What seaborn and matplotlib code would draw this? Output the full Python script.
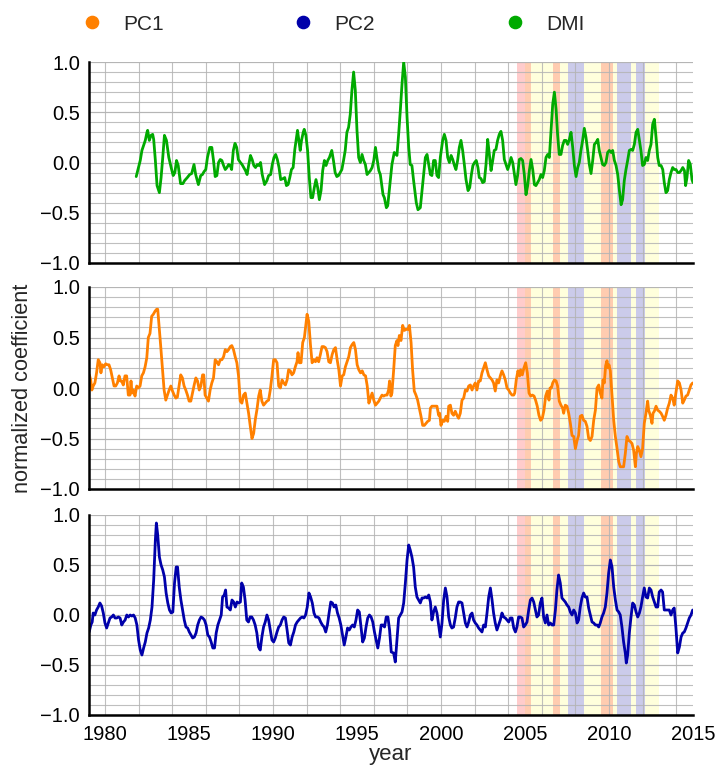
import matplotlib
matplotlib.use("Agg")
import matplotlib.pyplot as plt
from matplotlib.ticker import MultipleLocator
from matplotlib.lines import Line2D
import seaborn as sns

# ---------------- data ----------------
dmi_year = [1981.86, 1982.1, 1982.2, 1982.4, 1982.5, 1982.54, 1982.64, 1982.74, 1982.84, 1982.9,
            1983.0, 1983.1, 1983.24, 1983.34, 1983.44, 1983.54, 1983.66, 1983.8, 1983.94, 1984.06,
            1984.16, 1984.26, 1984.36, 1984.5, 1984.64, 1984.74, 1984.9, 1985.04, 1985.16, 1985.3,
            1985.4, 1985.56, 1985.7, 1985.8, 1985.9, 1986.0, 1986.1, 1986.24, 1986.36, 1986.46,
            1986.56, 1986.66, 1986.76, 1986.86, 1986.96, 1987.06, 1987.16, 1987.26, 1987.36, 1987.46,
            1987.54, 1987.64, 1987.74, 1987.84, 1987.94, 1988.06, 1988.16, 1988.26, 1988.36, 1988.46,
            1988.56, 1988.66, 1988.76, 1988.86, 1988.96, 1989.06, 1989.16, 1989.26, 1989.36, 1989.5,
            1989.64, 1989.74, 1989.86, 1989.96, 1990.06, 1990.16, 1990.26, 1990.36, 1990.46, 1990.6,
            1990.7, 1990.8, 1990.9, 1991.0, 1991.1, 1991.2, 1991.3, 1991.4, 1991.46, 1991.54,
            1991.62, 1991.7, 1991.8, 1991.86, 1991.96, 1992.06, 1992.16, 1992.26, 1992.36, 1992.46,
            1992.56, 1992.66, 1992.76, 1992.86, 1992.96, 1993.06, 1993.16, 1993.26, 1993.36, 1993.5,
            1993.6, 1993.7, 1993.8, 1993.9, 1994.0, 1994.1, 1994.2, 1994.3, 1994.4, 1994.5,
            1994.6, 1994.7, 1994.8, 1994.9, 1995.0, 1995.1, 1995.2, 1995.3, 1995.4, 1995.5,
            1995.6, 1995.7, 1995.8, 1995.9, 1996.0, 1996.1, 1996.2, 1996.3, 1996.39, 1996.55,
            1996.63, 1996.75, 1996.83, 1996.94, 1997.08, 1997.22, 1997.38, 1997.48, 1997.58, 1997.68,
            1997.78, 1997.88, 1997.98, 1998.08, 1998.17, 1998.27, 1998.37, 1998.53, 1998.63, 1998.77,
            1998.87, 1998.97, 1999.07, 1999.17, 1999.27, 1999.37, 1999.46, 1999.56, 1999.66, 1999.76,
            1999.86, 1999.96, 2000.1, 2000.2, 2000.3, 2000.4, 2000.5, 2000.6, 2000.7, 2000.8,
            2000.89, 2000.99, 2001.09, 2001.19, 2001.29, 2001.39, 2001.49, 2001.61, 2001.71, 2001.81,
            2001.9, 2002.0, 2002.1, 2002.2, 2002.28, 2002.38, 2002.48, 2002.58, 2002.68, 2002.78,
            2002.88, 2002.98, 2003.08, 2003.17, 2003.27, 2003.37, 2003.47, 2003.57, 2003.67, 2003.77,
            2003.87, 2003.97, 2004.07, 2004.17, 2004.27, 2004.37, 2004.46, 2004.56, 2004.66, 2004.76,
            2004.86, 2004.96, 2005.06, 2005.16, 2005.26, 2005.36, 2005.46, 2005.56, 2005.65, 2005.75,
            2005.85, 2005.95, 2006.05, 2006.15, 2006.25, 2006.35, 2006.45, 2006.55, 2006.65, 2006.75,
            2006.85, 2006.94, 2007.04, 2007.14, 2007.24, 2007.34, 2007.44, 2007.54, 2007.64, 2007.74,
            2007.84, 2007.94, 2008.04, 2008.14, 2008.23, 2008.33, 2008.43, 2008.53, 2008.63, 2008.73,
            2008.83, 2008.93, 2009.03, 2009.13, 2009.23, 2009.33, 2009.42, 2009.52, 2009.62, 2009.72,
            2009.82, 2009.92, 2010.02, 2010.12, 2010.22, 2010.32, 2010.42, 2010.52, 2010.62, 2010.72,
            2010.81, 2010.91, 2011.01, 2011.11, 2011.21, 2011.31, 2011.41, 2011.51, 2011.61, 2011.71,
            2011.81, 2011.9, 2012.0, 2012.1, 2012.2, 2012.3, 2012.4, 2012.5, 2012.6, 2012.7,
            2012.8, 2012.9, 2012.99, 2013.1, 2013.2, 2013.29, 2013.39, 2013.49, 2013.59, 2013.69,
            2013.79, 2013.89, 2013.99, 2014.09, 2014.19, 2014.29, 2014.39, 2014.49, 2014.56, 2014.64,
            2014.74, 2014.84, 2014.94, 2015.0]
dmi_val = [-0.14, 0.02, 0.12, 0.22, 0.30, 0.32, 0.22, 0.27, 0.28, 0.23,
           0.02, -0.23, -0.30, -0.15, 0.05, 0.27, 0.22, 0.05, -0.05, -0.13,
           -0.10, 0.02, -0.03, -0.21, -0.21, -0.18, -0.15, -0.12, -0.11, -0.02,
           -0.12, -0.22, -0.13, -0.12, -0.09, -0.07, 0.05, 0.15, 0.15, 0.02,
           -0.14, -0.13, 0.00, 0.03, 0.02, -0.03, -0.07, -0.05, -0.02, -0.03,
           -0.07, 0.12, 0.19, 0.15, 0.03, 0.00, -0.02, -0.05, -0.08, -0.12,
           -0.02, 0.07, 0.03, -0.03, -0.05, -0.02, -0.03, 0.00, -0.12, -0.22,
           -0.18, -0.13, -0.12, -0.02, 0.05, 0.08, 0.03, -0.05, -0.17, -0.16,
           -0.15, -0.23, -0.22, -0.15, -0.07, -0.05, 0.13, 0.25, 0.32, 0.22,
           0.12, 0.22, 0.30, 0.33, 0.27, 0.12, -0.15, -0.35, -0.35, -0.25,
           -0.17, -0.25, -0.37, -0.28, -0.08, 0.02, -0.03, 0.02, 0.05, 0.12,
           0.02, -0.10, -0.14, -0.13, -0.10, -0.07, 0.02, 0.12, 0.30, 0.35,
           0.48, 0.72, 0.90, 0.72, 0.32, 0.05, 0.00, 0.08, 0.02, -0.02,
           -0.12, -0.10, -0.08, -0.05, 0.02, 0.15, 0.03, -0.08, -0.12, -0.32,
           -0.35, -0.45, -0.43, -0.25, -0.02, 0.10, 0.07, 0.28, 0.52, 0.78,
           1.00, 0.85, 0.45, 0.15, -0.02, -0.03, -0.18, -0.40, -0.47, -0.45,
           -0.28, -0.12, 0.05, 0.08, -0.02, -0.12, -0.13, 0.02, 0.02, -0.13,
           -0.15, 0.05, 0.22, 0.28, 0.22, 0.05, 0.00, 0.07, 0.03, -0.03,
           -0.07, 0.02, 0.15, 0.22, 0.12, -0.02, -0.17, -0.28, -0.25, -0.12,
           -0.03, 0.00, 0.02, -0.05, -0.15, -0.16, -0.20, -0.19, -0.02, 0.23,
           0.08, -0.08, 0.02, 0.12, 0.13, 0.22, 0.28, 0.31, 0.22, 0.03,
           -0.02, -0.07, -0.02, 0.05, 0.00, -0.12, -0.22, -0.13, 0.03, 0.04,
           0.02, -0.12, -0.32, -0.23, -0.08, 0.03, -0.07, -0.22, -0.23, -0.20,
           -0.17, -0.12, -0.15, -0.08, 0.05, 0.08, 0.05, 0.32, 0.58, 0.70,
           0.53, 0.28, 0.08, 0.08, 0.17, 0.22, 0.22, 0.18, 0.23, 0.30,
           0.15, -0.03, -0.14, -0.05, 0.00, 0.12, 0.22, 0.34, 0.25, 0.12,
           -0.02, -0.11, 0.02, 0.18, 0.20, 0.23, 0.12, 0.05, -0.02, -0.03,
           0.00, 0.10, 0.12, 0.10, 0.12, 0.02, -0.03, -0.12, -0.28, -0.42,
           -0.37, -0.18, -0.07, 0.02, 0.12, 0.13, 0.12, 0.18, 0.30, 0.33,
           0.22, 0.12, -0.03, -0.02, 0.05, 0.02, 0.12, 0.18, 0.38, 0.43,
           0.25, 0.05, -0.03, -0.03, -0.07, -0.20, -0.30, -0.28, -0.17, -0.10,
           -0.05, -0.07, -0.07, -0.10, -0.10, -0.08, -0.05, -0.08, -0.23, -0.15,
           0.02, -0.02, -0.17, -0.20]

pc1_year = [1979.07, 1979.15, 1979.22, 1979.3, 1979.4, 1979.5, 1979.6, 1979.7, 1979.76, 1979.84,
            1979.94, 1980.04, 1980.14, 1980.24, 1980.34, 1980.44, 1980.54, 1980.64, 1980.74, 1980.84,
            1980.9, 1980.99, 1981.09, 1981.19, 1981.29, 1981.39, 1981.49, 1981.55, 1981.61, 1981.69,
            1981.79, 1981.89, 1981.99, 1982.09, 1982.19, 1982.29, 1982.39, 1982.49, 1982.58, 1982.68,
            1982.78, 1982.88, 1982.98, 1983.08, 1983.14, 1983.22, 1983.32, 1983.42, 1983.52, 1983.62,
            1983.72, 1983.82, 1983.92, 1984.02, 1984.12, 1984.22, 1984.31, 1984.41, 1984.51, 1984.61,
            1984.71, 1984.81, 1984.91, 1985.01, 1985.11, 1985.21, 1985.31, 1985.41, 1985.51, 1985.61,
            1985.71, 1985.81, 1985.88, 1985.96, 1986.06, 1986.16, 1986.26, 1986.36, 1986.46, 1986.56,
            1986.66, 1986.76, 1986.86, 1986.96, 1987.06, 1987.16, 1987.26, 1987.36, 1987.46, 1987.55,
            1987.65, 1987.75, 1987.85, 1987.95, 1988.05, 1988.15, 1988.25, 1988.35, 1988.45, 1988.55,
            1988.65, 1988.75, 1988.85, 1988.95, 1989.05, 1989.15, 1989.24, 1989.34, 1989.44, 1989.54,
            1989.64, 1989.74, 1989.84, 1989.94, 1990.04, 1990.14, 1990.24, 1990.34, 1990.44, 1990.54,
            1990.64, 1990.74, 1990.84, 1990.93, 1991.03, 1991.13, 1991.23, 1991.33, 1991.43, 1991.49,
            1991.57, 1991.67, 1991.77, 1991.87, 1991.97, 1992.03, 1992.13, 1992.23, 1992.33, 1992.43,
            1992.53, 1992.62, 1992.72, 1992.82, 1992.92, 1993.02, 1993.12, 1993.22, 1993.32, 1993.42,
            1993.52, 1993.62, 1993.72, 1993.82, 1993.92, 1994.02, 1994.12, 1994.21, 1994.31, 1994.41,
            1994.51, 1994.61, 1994.71, 1994.81, 1994.91, 1995.01, 1995.11, 1995.21, 1995.31, 1995.41,
            1995.51, 1995.61, 1995.71, 1995.8, 1995.9, 1996.0, 1996.1, 1996.2, 1996.3, 1996.39,
            1996.49, 1996.59, 1996.69, 1996.79, 1996.88, 1996.94, 1997.02, 1997.08, 1997.18, 1997.28,
            1997.38, 1997.44, 1997.52, 1997.62, 1997.72, 1997.82, 1997.92, 1998.02, 1998.12, 1998.22,
            1998.31, 1998.41, 1998.51, 1998.61, 1998.71, 1998.81, 1998.91, 1999.01, 1999.11, 1999.21,
            1999.31, 1999.37, 1999.46, 1999.56, 1999.66, 1999.76, 1999.86, 1999.92, 2000.0, 2000.1,
            2000.2, 2000.3, 2000.4, 2000.46, 2000.56, 2000.65, 2000.75, 2000.85, 2000.95, 2001.05,
            2001.15, 2001.25, 2001.35, 2001.45, 2001.55, 2001.65, 2001.75, 2001.85, 2001.94, 2002.04,
            2002.14, 2002.24, 2002.34, 2002.44, 2002.54, 2002.64, 2002.74, 2002.84, 2002.94, 2003.04,
            2003.13, 2003.23, 2003.33, 2003.43, 2003.53, 2003.63, 2003.73, 2003.83, 2003.93, 2004.03,
            2004.13, 2004.23, 2004.33, 2004.39, 2004.48, 2004.58, 2004.68, 2004.74, 2004.84, 2004.94,
            2005.04, 2005.14, 2005.24, 2005.34, 2005.44, 2005.54, 2005.63, 2005.73, 2005.83, 2005.93,
            2006.03, 2006.13, 2006.23, 2006.33, 2006.43, 2006.49, 2006.57, 2006.65, 2006.75, 2006.85,
            2006.94, 2007.04, 2007.14, 2007.24, 2007.3, 2007.4, 2007.5, 2007.6, 2007.7, 2007.8,
            2007.9, 2008.0, 2008.1, 2008.19, 2008.29, 2008.39, 2008.49, 2008.59, 2008.69, 2008.79,
            2008.89, 2008.99, 2009.09, 2009.19, 2009.29, 2009.39, 2009.48, 2009.58, 2009.64, 2009.72,
            2009.8, 2009.88, 2009.94, 2010.0, 2010.08, 2010.18, 2010.28, 2010.38, 2010.48, 2010.58,
            2010.67, 2010.77, 2010.87, 2010.97, 2011.07, 2011.17, 2011.27, 2011.37, 2011.47, 2011.57,
            2011.63, 2011.71, 2011.81, 2011.9, 2012.0, 2012.1, 2012.2, 2012.3, 2012.36, 2012.46,
            2012.56, 2012.62, 2012.7, 2012.8, 2012.9, 2012.99, 2013.1, 2013.19, 2013.29, 2013.39,
            2013.49, 2013.59, 2013.69, 2013.79, 2013.88, 2013.98, 2014.09, 2014.19, 2014.29, 2014.39,
            2014.48, 2014.58, 2014.68, 2014.78, 2014.88, 2014.98]
pc1_val = [0.13, 0.08, -0.02, 0.02, 0.05, 0.15, 0.28, 0.25, 0.15, 0.23,
           0.21, 0.24, 0.23, 0.23, 0.18, 0.10, 0.02, 0.02, 0.05, 0.12,
           0.07, 0.07, 0.03, 0.12, 0.12, -0.07, -0.07, 0.07, -0.05, -0.02,
           -0.08, 0.02, 0.00, 0.02, 0.12, 0.15, 0.21, 0.30, 0.50, 0.54,
           0.71, 0.73, 0.76, 0.78, 0.78, 0.61, 0.41, 0.20, -0.02, -0.12,
           -0.07, -0.02, 0.02, -0.03, -0.07, -0.10, -0.09, 0.02, 0.13, 0.10,
           0.02, -0.02, -0.07, -0.13, -0.13, -0.05, 0.03, 0.10, 0.07, -0.02,
           0.02, 0.13, 0.13, -0.07, -0.10, -0.13, -0.02, 0.05, 0.10, 0.28,
           0.26, 0.23, 0.28, 0.28, 0.31, 0.38, 0.36, 0.38, 0.41, 0.42,
           0.38, 0.31, 0.25, 0.12, -0.13, -0.15, -0.07, -0.05, -0.15, -0.25,
           -0.38, -0.50, -0.45, -0.31, -0.21, -0.08, -0.02, -0.13, -0.17, -0.15,
           -0.13, -0.12, -0.02, 0.12, 0.28, 0.28, 0.25, 0.02, 0.00, 0.08,
           0.05, 0.03, 0.08, 0.18, 0.17, 0.13, 0.15, 0.21, 0.26, 0.35,
           0.25, 0.25, 0.45, 0.50, 0.64, 0.73, 0.66, 0.43, 0.25, 0.28,
           0.26, 0.30, 0.26, 0.33, 0.41, 0.41, 0.40, 0.36, 0.26, 0.25,
           0.33, 0.38, 0.40, 0.28, 0.18, 0.02, 0.12, 0.13, 0.21, 0.26,
           0.31, 0.40, 0.43, 0.45, 0.38, 0.23, 0.18, 0.15, 0.17, 0.13,
           0.12, 0.02, -0.15, -0.10, -0.05, -0.12, -0.17, -0.15, -0.13, -0.10,
           -0.07, -0.08, -0.07, -0.07, -0.02, 0.07, -0.08, -0.05, 0.17, 0.42,
           0.47, 0.42, 0.52, 0.47, 0.62, 0.57, 0.58, 0.58, 0.62, 0.45,
           0.18, -0.03, -0.07, -0.12, -0.20, -0.28, -0.37, -0.37, -0.35, -0.33,
           -0.32, -0.20, -0.18, -0.18, -0.18, -0.18, -0.27, -0.25, -0.37, -0.32,
           -0.33, -0.28, -0.33, -0.18, -0.17, -0.25, -0.27, -0.23, -0.27, -0.30,
           -0.25, -0.12, -0.10, -0.02, -0.03, 0.02, 0.03, -0.02, 0.02, 0.05,
           -0.02, 0.07, 0.07, 0.15, 0.20, 0.25, 0.18, 0.12, 0.10, 0.08,
           0.05, -0.03, 0.08, 0.05, 0.12, 0.17, 0.13, 0.08, 0.00, -0.02,
           -0.05, -0.07, -0.07, -0.05, 0.08, 0.17, 0.12, 0.18, 0.13, 0.20,
           0.25, 0.15, -0.05, -0.08, -0.07, -0.08, -0.12, -0.18, -0.27, -0.32,
           -0.30, -0.22, -0.08, -0.03, -0.12, 0.00, 0.00, 0.05, 0.08, 0.07,
           0.02, -0.13, -0.17, -0.20, -0.25, -0.17, -0.18, -0.25, -0.35, -0.47,
           -0.48, -0.60, -0.52, -0.47, -0.28, -0.27, -0.32, -0.33, -0.38, -0.50,
           -0.52, -0.48, -0.32, -0.22, 0.00, 0.03, -0.05, -0.10, 0.08, 0.05,
           0.22, 0.27, 0.20, 0.23, 0.17, -0.08, -0.32, -0.48, -0.60, -0.73,
           -0.78, -0.78, -0.78, -0.65, -0.48, -0.52, -0.53, -0.55, -0.62, -0.78,
           -0.65, -0.58, -0.62, -0.68, -0.60, -0.35, -0.25, -0.13, -0.22, -0.27,
           -0.35, -0.25, -0.23, -0.18, -0.22, -0.23, -0.25, -0.28, -0.32, -0.27,
           -0.20, -0.15, -0.07, -0.10, -0.17, -0.05, 0.07, 0.05, -0.02, -0.15,
           -0.12, -0.08, -0.07, -0.02, 0.03, 0.05]

pc2_year = [1979.06, 1979.16, 1979.24, 1979.3, 1979.4, 1979.5, 1979.6, 1979.7, 1979.8, 1979.9,
            1980.0, 1980.1, 1980.2, 1980.3, 1980.4, 1980.5, 1980.6, 1980.7, 1980.8, 1980.9,
            1981.0, 1981.1, 1981.2, 1981.3, 1981.4, 1981.5, 1981.6, 1981.7, 1981.8, 1981.9,
            1982.0, 1982.1, 1982.2, 1982.3, 1982.4, 1982.5, 1982.6, 1982.7, 1982.8, 1982.9,
            1983.0, 1983.06, 1983.14, 1983.24, 1983.34, 1983.44, 1983.54, 1983.64, 1983.74, 1983.84,
            1983.94, 1984.04, 1984.14, 1984.24, 1984.32, 1984.42, 1984.52, 1984.62, 1984.72, 1984.82,
            1984.92, 1985.02, 1985.12, 1985.22, 1985.32, 1985.42, 1985.52, 1985.62, 1985.72, 1985.82,
            1985.92, 1986.02, 1986.12, 1986.22, 1986.32, 1986.42, 1986.52, 1986.62, 1986.72, 1986.82,
            1986.92, 1987.0, 1987.1, 1987.18, 1987.26, 1987.36, 1987.46, 1987.56, 1987.66, 1987.76,
            1987.86, 1987.96, 1988.06, 1988.14, 1988.24, 1988.34, 1988.44, 1988.54, 1988.64, 1988.74,
            1988.84, 1988.94, 1989.04, 1989.14, 1989.24, 1989.34, 1989.44, 1989.54, 1989.64, 1989.74,
            1989.84, 1989.94, 1990.04, 1990.14, 1990.24, 1990.34, 1990.44, 1990.54, 1990.64, 1990.74,
            1990.84, 1990.94, 1991.04, 1991.14, 1991.24, 1991.34, 1991.44, 1991.54, 1991.64, 1991.74,
            1991.84, 1991.94, 1992.04, 1992.14, 1992.24, 1992.34, 1992.44, 1992.54, 1992.64, 1992.74,
            1992.84, 1992.94, 1993.04, 1993.14, 1993.24, 1993.34, 1993.44, 1993.54, 1993.64, 1993.74,
            1993.84, 1993.94, 1994.04, 1994.14, 1994.24, 1994.34, 1994.44, 1994.54, 1994.64, 1994.74,
            1994.84, 1994.94, 1995.04, 1995.14, 1995.24, 1995.34, 1995.44, 1995.54, 1995.64, 1995.74,
            1995.84, 1995.94, 1996.04, 1996.14, 1996.24, 1996.34, 1996.44, 1996.54, 1996.64, 1996.74,
            1996.84, 1996.94, 1997.04, 1997.18, 1997.28, 1997.38, 1997.48, 1997.58, 1997.68, 1997.78,
            1997.88, 1997.98, 1998.08, 1998.17, 1998.27, 1998.37, 1998.47, 1998.57, 1998.67, 1998.77,
            1998.87, 1998.97, 1999.07, 1999.17, 1999.27, 1999.37, 1999.46, 1999.56, 1999.66, 1999.76,
            1999.86, 1999.96, 2000.06, 2000.16, 2000.26, 2000.36, 2000.46, 2000.56, 2000.65, 2000.75,
            2000.85, 2000.95, 2001.05, 2001.15, 2001.25, 2001.35, 2001.45, 2001.55, 2001.65, 2001.75,
            2001.85, 2001.94, 2002.04, 2002.14, 2002.24, 2002.34, 2002.44, 2002.54, 2002.64, 2002.74,
            2002.84, 2002.94, 2003.04, 2003.13, 2003.23, 2003.33, 2003.43, 2003.53, 2003.63, 2003.73,
            2003.83, 2003.93, 2004.03, 2004.13, 2004.23, 2004.33, 2004.43, 2004.52, 2004.62, 2004.72,
            2004.82, 2004.92, 2005.02, 2005.12, 2005.22, 2005.32, 2005.42, 2005.52, 2005.62, 2005.71,
            2005.81, 2005.91, 2006.01, 2006.11, 2006.21, 2006.31, 2006.41, 2006.51, 2006.61, 2006.71,
            2006.81, 2006.9, 2007.0, 2007.1, 2007.2, 2007.3, 2007.4, 2007.5, 2007.6, 2007.7,
            2007.8, 2007.9, 2008.0, 2008.1, 2008.19, 2008.29, 2008.39, 2008.49, 2008.59, 2008.69,
            2008.79, 2008.89, 2008.99, 2009.09, 2009.19, 2009.29, 2009.39, 2009.48, 2009.58, 2009.68,
            2009.78, 2009.88, 2009.98, 2010.08, 2010.18, 2010.28, 2010.38, 2010.48, 2010.58, 2010.67,
            2010.77, 2010.87, 2010.97, 2011.03, 2011.11, 2011.21, 2011.31, 2011.41, 2011.51, 2011.61,
            2011.71, 2011.81, 2011.9, 2012.0, 2012.1, 2012.2, 2012.3, 2012.4, 2012.5, 2012.6,
            2012.7, 2012.8, 2012.9, 2012.99, 2013.1, 2013.19, 2013.29, 2013.39, 2013.49, 2013.59,
            2013.69, 2013.79, 2013.88, 2013.98, 2014.09, 2014.19, 2014.29, 2014.39, 2014.48, 2014.58,
            2014.68, 2014.78, 2014.88, 2014.98]
pc2_val = [-0.17, -0.10, -0.07, 0.02, 0.00, 0.05, 0.08, 0.12, 0.09, 0.02,
           -0.08, -0.13, -0.08, -0.03, -0.02, 0.00, -0.03, -0.03, -0.02, -0.03,
           -0.10, -0.07, -0.05, 0.00, -0.02, 0.00, -0.01, 0.00, -0.03, -0.10,
           -0.25, -0.35, -0.40, -0.33, -0.27, -0.18, -0.13, -0.05, 0.08, 0.35,
           0.75, 0.92, 0.80, 0.58, 0.50, 0.45, 0.38, 0.22, 0.12, 0.05,
           0.02, 0.03, 0.32, 0.48, 0.48, 0.28, 0.15, 0.05, -0.05, -0.12,
           -0.13, -0.17, -0.20, -0.23, -0.22, -0.18, -0.10, -0.05, -0.02, -0.03,
           -0.05, -0.10, -0.20, -0.22, -0.27, -0.33, -0.33, -0.18, -0.10, -0.05,
           0.00, 0.18, 0.20, 0.25, 0.08, 0.07, 0.05, 0.15, 0.13, 0.08,
           0.13, 0.12, 0.13, 0.32, 0.28, 0.15, -0.05, -0.07, -0.02, -0.02,
           -0.05, -0.10, -0.18, -0.32, -0.35, -0.22, -0.12, -0.07, 0.00, -0.05,
           -0.15, -0.25, -0.27, -0.23, -0.17, -0.12, -0.10, -0.05, -0.02, -0.03,
           -0.15, -0.28, -0.30, -0.22, -0.17, -0.10, -0.07, -0.05, -0.03, -0.02,
           -0.03, 0.00, 0.08, 0.22, 0.18, 0.12, 0.02, -0.02, -0.02, -0.03,
           -0.07, -0.10, -0.12, -0.17, -0.10, 0.02, 0.13, 0.12, 0.08, 0.10,
           0.02, -0.03, -0.10, -0.20, -0.30, -0.22, -0.13, -0.15, -0.12, -0.10,
           -0.12, -0.05, 0.05, 0.03, -0.12, -0.27, -0.23, -0.12, -0.03, 0.00,
           -0.02, -0.07, -0.17, -0.25, -0.33, -0.23, -0.10, -0.10, -0.12, -0.02,
           -0.02, -0.15, -0.37, -0.38, -0.47, -0.25, -0.03, 0.00, 0.03, 0.12,
           0.32, 0.55, 0.70, 0.65, 0.58, 0.48, 0.28, 0.18, 0.15, 0.12,
           0.17, 0.17, 0.18, 0.17, 0.20, 0.13, -0.05, 0.03, 0.08, 0.02,
           -0.10, -0.22, -0.08, 0.15, 0.27, 0.18, -0.02, -0.10, -0.13, -0.12,
           -0.03, 0.08, 0.13, 0.13, 0.12, 0.02, -0.08, -0.12, -0.07, 0.00,
           0.02, -0.05, -0.08, -0.10, -0.13, -0.15, -0.17, -0.10, -0.12, 0.02,
           0.18, 0.27, 0.15, 0.02, -0.08, -0.15, -0.10, -0.05, 0.02, -0.02,
           -0.03, -0.05, -0.07, -0.03, -0.03, -0.13, -0.17, -0.12, -0.02, -0.02,
           -0.03, -0.12, -0.10, -0.07, 0.05, 0.15, 0.17, 0.13, 0.05, -0.02,
           0.00, 0.12, 0.17, -0.02, -0.08, 0.00, -0.10, -0.08, -0.10, -0.10,
           0.05, 0.25, 0.40, 0.32, 0.17, 0.15, 0.13, 0.10, 0.08, 0.03,
           0.00, 0.05, 0.02, -0.08, -0.05, 0.08, 0.17, 0.22, 0.18, 0.18,
           0.07, 0.00, -0.07, -0.08, -0.10, -0.10, -0.12, -0.08, -0.02, 0.02,
           0.08, 0.22, 0.42, 0.55, 0.48, 0.28, 0.15, 0.05, 0.03, 0.00,
           -0.12, -0.27, -0.38, -0.48, -0.40, -0.18, -0.02, 0.12, 0.10, 0.03,
           -0.02, 0.02, 0.08, 0.18, 0.27, 0.18, 0.17, 0.27, 0.25, 0.18,
           0.13, 0.08, 0.08, 0.23, 0.25, 0.23, 0.05, 0.05, 0.05, 0.05,
           0.00, 0.05, 0.07, -0.12, -0.38, -0.32, -0.22, -0.18, -0.17, -0.13,
           -0.08, -0.03, 0.00, 0.05]

# shaded periods (start, end) in years
yellow_spans = [(2005.0, 2013.0)]
red_spans = [(2004.5, 2005.33), (2006.67, 2007.08), (2009.5, 2010.25)]
blue_spans = [(2007.58, 2008.5), (2010.5, 2011.33), (2011.58, 2012.17)]

series_names = ["PC1", "PC2", "DMI"]
series_colors = {"PC1": "#ff8000", "PC2": "#0000aa", "DMI": "#00aa00"}
x_ticks = [1980, 1985, 1990, 1995, 2000, 2005, 2010, 2015]
y_ticks = [-1.0, -0.5, 0.0, 0.5, 1.0]

# ---------------- style ----------------
sns.set_style("white")
plt.rcParams["font.family"] = ["Liberation Sans", "DejaVu Sans"]
plt.rcParams["axes.unicode_minus"] = True

fig = plt.figure(figsize=(7.17, 7.66), dpi=100)
W, H = 717, 766
left, right = 89 / W, 693 / W
panels_px = [(62, 263), (287, 489), (515, 715)]
axes = []
for (t, b) in panels_px:
    axes.append(fig.add_axes([left, 1 - b / H, right - left, (b - t) / H]))

order = [("DMI", dmi_year, dmi_val), ("PC1", pc1_year, pc1_val), ("PC2", pc2_year, pc2_val)]

for i, (ax, (name, xs, ys)) in enumerate(zip(axes, order)):
    for s, e in yellow_spans:
        ax.axvspan(s, e, color="#ffffdc", lw=0, zorder=0.2)
    for s, e in red_spans:
        ax.axvspan(s, e, color="#ff0000", alpha=0.2, lw=0, zorder=0.3)
    for s, e in blue_spans:
        ax.axvspan(s, e, color="#cbcbea", lw=0, zorder=0.3)
    sns.lineplot(x=xs, y=ys, ax=ax, color=series_colors[name], lw=2.0,
                 sort=False, estimator=None, zorder=3)
    ax.set_xlim(1979.05, 2015)
    ax.set_ylim(-1.0, 1.0)
    ax.set_xticks(x_ticks)
    ax.set_yticks(y_ticks)
    ax.xaxis.set_minor_locator(MultipleLocator(2))
    ax.yaxis.set_minor_locator(MultipleLocator(0.1))
    ax.xaxis.remove_overlapping_locs = False
    ax.yaxis.remove_overlapping_locs = False
    ax.set_axisbelow("line")
    ax.grid(False)
    ax.grid(which="minor", axis="x", color="#b4b4b4", lw=0.8, alpha=0.85)
    ax.grid(which="both", axis="y", color="#b4b4b4", lw=0.8, alpha=0.85)
    for sp in ["top", "right"]:
        ax.spines[sp].set_visible(False)
    for sp in ["left", "bottom"]:
        ax.spines[sp].set_color("black")
        ax.spines[sp].set_linewidth(1.8)
        ax.spines[sp].set_zorder(4)
    ax.tick_params(which="major", direction="out", length=5, width=1.6,
                   color="black", labelsize=14.5, labelcolor="black", pad=1.5)
    ax.tick_params(which="minor", length=0)
    ax.tick_params(axis="x", which="major", pad=2)
    ax.set_yticklabels(["\u22121.0", "\u22120.5", "0.0", "0.5", "1.0"])
    if i < 2:
        ax.set_xticklabels([])
    else:
        ax.set_xticklabels([str(v) for v in x_ticks])
    ax.set_xlabel("")
    ax.set_ylabel("")

fig.text(23 / W, 1 - 388 / H, "normalized coefficient", rotation=90,
         ha="center", va="center", fontsize=15.7)
fig.text(391 / W, 1 - 760 / H, "year", ha="center", va="baseline", fontsize=16)

handles = [Line2D([0], [0], marker="o", linestyle="none", markersize=8.8,
                  markerfacecolor=series_colors[n], markeredgecolor=series_colors[n])
           for n in series_names]
fig.legend(handles, series_names, ncol=3, loc="center",
           bbox_to_anchor=(333 / W, 1 - 24 / H), frameon=False, fontsize=15,
           handlelength=1.0, handletextpad=1.0, columnspacing=6.2, borderpad=0.2)

fig.savefig("out.png", dpi=100)
